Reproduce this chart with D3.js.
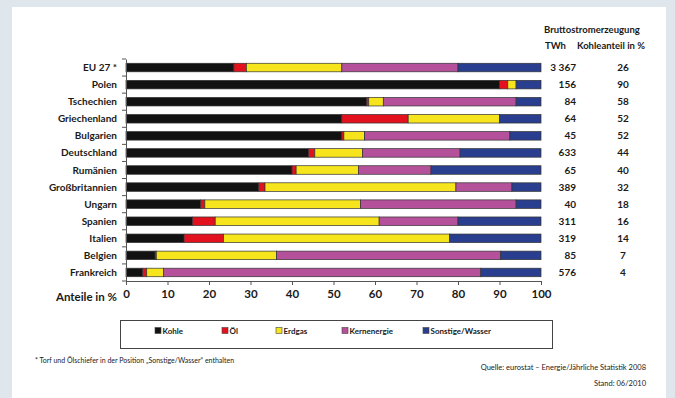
<!DOCTYPE html>
<html>
<head>
<meta charset="utf-8">
<script src="https://cdn.jsdelivr.net/npm/d3@7"></script>
<style>
  html, body { margin: 0; padding: 0; background: #dfe7ec; }
  svg { display: block; }
  text { font-family: Lato, "Open Sans", sans-serif; fill: #1a1a1a; }
</style>
</head>
<body>
<svg id="chart" width="675" height="398"></svg>
<script>
// Länder / Kategorien
const countries = ["EU 27 *", "Polen", "Tschechien", "Griechenland", "Bulgarien", "Deutschland",
  "Rumänien", "Großbritannien", "Ungarn", "Spanien", "Italien", "Belgien", "Frankreich"];

// Anteile der Energieträger an der Bruttostromerzeugung in %
const kohle       = [26, 90, 58, 52, 52, 44, 40, 32, 18, 16, 14, 7, 4];
const oel         = [3, 2, 0.5, 16, 0.5, 1.5, 1, 1.5, 1, 5.5, 9.5, 0.3, 1];
const erdgas      = [23, 2, 3.5, 22, 5, 11.5, 15, 46, 37.5, 39.5, 54.5, 29, 4];
const kernenergie = [28, 0, 32, 0, 35, 23.5, 17.5, 13.5, 37.5, 19, 0, 54, 76.5];
const sonstige    = [20, 6, 6, 10, 7.5, 19.5, 26.5, 7, 6, 20, 22, 9.7, 14.5];

// Bruttostromerzeugung in TWh und Kohleanteil in %
const twh = ["3 367", "156", "84", "64", "45", "633", "65", "389", "40", "311", "319", "85", "576"];
const kohleanteil = [26, 90, 58, 52, 52, 44, 40, 32, 18, 16, 14, 7, 4];

const xTicks = [0, 10, 20, 30, 40, 50, 60, 70, 80, 90, 100];

const seriesNames = ["Kohle", "Öl", "Erdgas", "Kernenergie", "Sonstige/Wasser"];
const seriesColors = ["#121212", "#e3101e", "#f6e51c", "#b5519b", "#2a3e90"];
const seriesValues = [kohle, oel, erdgas, kernenergie, sonstige];

const svg = d3.select("#chart");

// weißes Feld
svg.append("rect").attr("x", 12).attr("y", 7).attr("width", 654).attr("height", 391).attr("fill", "#ffffff");

const x = d3.scaleLinear().domain([0, 100]).range([126, 541]);
const y = d3.scaleBand().domain(countries).range([59, 281]).paddingInner(0.5).paddingOuter(0.25);

// Tabelle für den Stapel
const rows = countries.map((c, i) => {
  const r = { land: c };
  seriesNames.forEach((s, k) => { r[s] = seriesValues[k][i]; });
  return r;
});
const stacked = d3.stack().keys(seriesNames)(rows);

const g = svg.append("g");
g.selectAll("g.series")
  .data(stacked)
  .join("g")
  .attr("class", "series")
  .attr("fill", (d, k) => seriesColors[k])
  .selectAll("rect")
  .data(d => d.filter(p => p[1] - p[0] > 0))
  .join("rect")
  .attr("x", d => x(d[0]))
  .attr("width", d => x(d[1]) - x(d[0]))
  .attr("y", d => y(d.data.land))
  .attr("height", y.bandwidth())
  .attr("stroke", "#333")
  .attr("stroke-width", 0.7);

// Achsen
const yAxis = d3.axisLeft(y).tickSize(0).tickFormat("");
const yg = svg.append("g").attr("transform", `translate(${x(0)},0)`).call(yAxis);
yg.select(".domain").attr("stroke", "#555");
// Teilstriche zwischen den Kategorien
const step = y.step();
const bounds = d3.range(countries.length + 1).map(i => 59 + i * step);
svg.append("g").selectAll("line").data(bounds).join("line")
  .attr("x1", x(0) - 4).attr("x2", x(0))
  .attr("y1", d => d).attr("y2", d => d)
  .attr("stroke", "#555").attr("stroke-width", 1);

svg.append("g").selectAll("text").data(countries).join("text")
  .attr("x", 117)
  .attr("y", d => y(d) + y.bandwidth() / 2)
  .attr("dy", "0.35em")
  .attr("text-anchor", "end")
  .attr("font-size", 10)
  .attr("font-weight", "bold")
  .text(d => d);

const xAxis = d3.axisBottom(x).tickValues(xTicks).tickSize(4).tickPadding(5);
const xg = svg.append("g").attr("transform", `translate(0,281)`).call(xAxis);
xg.select(".domain").attr("stroke", "#555");
xg.selectAll(".tick line").attr("stroke", "#555");
xg.selectAll(".tick text")
  .attr("font-size", 11.5).attr("font-weight", "bold")
  .attr("font-family", "Lato, 'Open Sans', sans-serif").attr("fill", "#1a1a1a");

svg.append("text").attr("x", 117).attr("y", 301)
  .attr("text-anchor", "end").attr("font-size", 11.5).attr("font-weight", "bold")
  .text("Anteile in %");

// Tabellenspalten rechts
svg.append("text").attr("x", 544).attr("y", 33).attr("font-size", 9.5).attr("font-weight", "bold")
  .text("Bruttostromerzeugung");
svg.append("text").attr("x", 545).attr("y", 49).attr("font-size", 9.5).attr("font-weight", "bold")
  .text("TWh");
svg.append("text").attr("x", 577).attr("y", 49).attr("font-size", 9.5).attr("font-weight", "bold")
  .text("Kohleanteil in %");

svg.append("g").selectAll("text").data(countries).join("text")
  .attr("x", 576)
  .attr("y", d => y(d) + y.bandwidth() / 2)
  .attr("dy", "0.35em")
  .attr("text-anchor", "end")
  .attr("font-size", 10).attr("font-weight", "bold")
  .text((d, i) => twh[i]);

svg.append("g").selectAll("text").data(countries).join("text")
  .attr("x", 623)
  .attr("y", d => y(d) + y.bandwidth() / 2)
  .attr("dy", "0.35em")
  .attr("text-anchor", "middle")
  .attr("font-size", 10).attr("font-weight", "bold")
  .text((d, i) => kohleanteil[i]);

// Legende
svg.append("rect").attr("x", 120.5).attr("y", 320.5).attr("width", 432).attr("height", 28)
  .attr("fill", "#fff").attr("stroke", "#444").attr("stroke-width", 1);
const legendX = [155, 222, 276, 342, 423];
const lg = svg.append("g").selectAll("g").data(seriesNames).join("g")
  .attr("transform", (d, i) => `translate(${legendX[i]},331)`);
lg.append("rect").attr("x", 0).attr("y", -3.5).attr("width", 6).attr("height", 6)
  .attr("fill", (d, i) => seriesColors[i]).attr("stroke", "#444").attr("stroke-width", 0.6);
lg.append("text").attr("x", 7.5).attr("y", 0).attr("dy", "0.35em")
  .attr("font-size", 8).attr("font-weight", "bold").text(d => d);

// Fußnoten
svg.append("text").attr("x", 35).attr("y", 363).attr("font-size", 7)
  .text("* Torf und Ölschiefer in der Position „Sonstige/Wasser“ enthalten");
svg.append("text").attr("x", 646).attr("y", 370).attr("text-anchor", "end").attr("font-size", 7.5)
  .text("Quelle: eurostat – Energie/Jährliche Statistik 2008");
svg.append("text").attr("x", 646).attr("y", 386).attr("text-anchor", "end").attr("font-size", 7.5)
  .text("Stand: 06/2010");
</script>
</body>
</html>
